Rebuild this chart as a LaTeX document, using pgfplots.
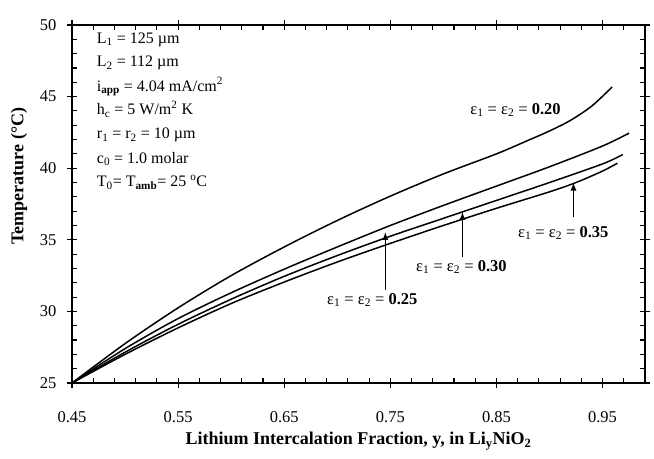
\documentclass[border=0pt]{standalone}
\usepackage{fontspec}
\setmainfont{Liberation Serif}
\usepackage{pgfplots}
\pgfplotsset{compat=1.18}
\usetikzlibrary{arrows.meta}

\pgfplotstableread{
x y
0.45 25.0
0.50 27.75
0.55 30.25
0.60 32.5
0.65 34.5
0.70 36.35
0.75 38.05
0.80 39.6
0.85 41.0
0.88 41.95
0.90 42.6
0.92 43.35
0.94 44.35
0.959 45.67
}\epsA
\pgfplotstableread{
x y
0.45 25.0
0.50 27.4
0.55 29.5
0.60 31.3
0.65 32.95
0.70 34.5
0.75 36.0
0.80 37.4
0.85 38.75
0.90 40.1
0.95 41.55
0.975 42.45
}\epsB
\pgfplotstableread{
x y
0.45 25.0
0.50 27.15
0.55 29.1
0.60 30.85
0.65 32.45
0.70 33.9
0.75 35.25
0.80 36.5
0.85 37.75
0.90 39.0
0.95 40.3
0.969 40.95
}\epsC
\pgfplotstableread{
x y
0.45 25.0
0.50 27.0
0.55 28.85
0.60 30.55
0.65 32.05
0.70 33.45
0.75 34.75
0.80 36.0
0.85 37.2
0.90 38.35
0.925 39.0
0.95 39.8
0.964 40.35
}\epsD

\begin{document}
\begin{tikzpicture}
\begin{axis}[name=ax, scale only axis, width=573pt, height=358pt,
  xmin=0.45, xmax=0.99, ymin=25, ymax=50,
  xtick={0.45,0.55,0.65,0.75,0.85,0.95},
  xticklabels={0.45,0.55,0.65,0.75,0.85,0.95},
  ytick={25,30,35,40,45,50},
  yticklabels={25,30,35,40,45,50},
  tick align=center, major tick length=10pt,
  tick style={black, line width=1.1pt},
  axis line style={line width=1.3pt},
  tick label style={font=\fontsize{16.5}{18}\selectfont},
  xticklabel style={anchor=center, yshift=-29pt},
  yticklabel style={anchor=east, xshift=-7pt},
  xlabel={\textbf{Lithium Intercalation Fraction, y, in Li\textsubscript{y}NiO\textsubscript{2}}},
  ylabel={\textbf{Temperature (°C)}},
  label style={font=\fontsize{18}{20}\selectfont},
  xlabel style={at={(axis description cs:0.5,-0.162)}, anchor=center},
  ylabel style={at={(axis description cs:-0.0925,0.578)}, anchor=center},
  clip=false,
]
\addplot[black, line width=1.5pt, smooth, no markers] table[x=x,y=y] {\epsA};
\addplot[black, line width=1.5pt, smooth, no markers] table[x=x,y=y] {\epsB};
\addplot[black, line width=1.5pt, smooth, no markers] table[x=x,y=y] {\epsC};
\addplot[black, line width=1.5pt, smooth, no markers] table[x=x,y=y] {\epsD};

% major ticks crossing the axis lines
\pgfplotsinvokeforeach{0.45,0.55,0.65,0.75,0.85,0.95}{
  \draw[line width=1.1pt] ([yshift=-5pt]axis cs:#1,25) -- ([yshift=5pt]axis cs:#1,25);
  \draw[line width=1.1pt] ([yshift=-5pt]axis cs:#1,50) -- ([yshift=5pt]axis cs:#1,50);
}
\pgfplotsinvokeforeach{25,30,35,40,45,50}{
  \draw[line width=1.1pt] ([xshift=-5pt]axis cs:0.45,#1) -- ([xshift=5pt]axis cs:0.45,#1);
  \draw[line width=1.1pt] ([xshift=-5pt]axis cs:0.99,#1) -- ([xshift=5pt]axis cs:0.99,#1);
}
% minor ticks pointing inwards
\pgfplotsinvokeforeach{0.47,0.49,0.51,0.53,0.57,0.59,0.61,0.63,0.67,0.69,0.71,0.73,0.77,0.79,0.81,0.83,0.87,0.89,0.91,0.93,0.97}{
  \draw[line width=1.1pt] (axis cs:#1,25) -- ([yshift=5pt]axis cs:#1,25);
  \draw[line width=1.1pt] (axis cs:#1,50) -- ([yshift=-5pt]axis cs:#1,50);
}
\pgfplotsinvokeforeach{26,27,28,29,31,32,33,34,36,37,38,39,41,42,43,44,46,47,48,49}{
  \draw[line width=1.1pt] (axis cs:0.45,#1) -- ([xshift=5pt]axis cs:0.45,#1);
  \draw[line width=1.1pt] (axis cs:0.99,#1) -- ([xshift=-5pt]axis cs:0.99,#1);
}

\node[font=\fontsize{16}{18}\selectfont, anchor=base west, inner sep=0pt] at (axis cs:0.4733,48.74) {L\textsubscript{1} = 125 µm};
\node[font=\fontsize{16}{18}\selectfont, anchor=base west, inner sep=0pt] at (axis cs:0.4733,47.07) {L\textsubscript{2} = 112 µm};
\node[font=\fontsize{16}{18}\selectfont, anchor=base west, inner sep=0pt] at (axis cs:0.4733,45.39) {i\textsubscript{\textbf{app}} = 4.04 mA/cm\textsuperscript{2}};
\node[font=\fontsize{16}{18}\selectfont, anchor=base west, inner sep=0pt] at (axis cs:0.4733,43.72) {h\textsubscript{c} = 5 W/m\textsuperscript{2} K};
\node[font=\fontsize{16}{18}\selectfont, anchor=base west, inner sep=0pt] at (axis cs:0.4733,42.04) {r\textsubscript{1} = r\textsubscript{2} = 10 µm};
\node[font=\fontsize{16}{18}\selectfont, anchor=base west, inner sep=0pt] at (axis cs:0.4733,40.36) {c\textsubscript{0} = 1.0 molar};
\node[font=\fontsize{16}{18}\selectfont, anchor=base west, inner sep=0pt] at (axis cs:0.4733,38.69) {T\textsubscript{0}= T\textsubscript{\textbf{amb}}= 25 \textsuperscript{o}C};

\node[font=\fontsize{16.5}{18}\selectfont, inner sep=0pt] at (axis cs:0.868,44.06) {ε\textsubscript{1} = ε\textsubscript{2} = \textbf{0.20}};
\node[font=\fontsize{16.5}{18}\selectfont, inner sep=0pt] at (axis cs:0.733,30.80) {ε\textsubscript{1} = ε\textsubscript{2} = \textbf{0.25}};
\node[font=\fontsize{16.5}{18}\selectfont, inner sep=0pt] at (axis cs:0.817,33.10) {ε\textsubscript{1} = ε\textsubscript{2} = \textbf{0.30}};
\node[font=\fontsize{16.5}{18}\selectfont, inner sep=0pt] at (axis cs:0.913,35.47) {ε\textsubscript{1} = ε\textsubscript{2} = \textbf{0.35}};

\draw[line width=1.3pt, -{Latex[length=8pt,width=6pt]}] (axis cs:0.7453,31.49) -- (axis cs:0.7453,35.55);
\draw[line width=1.3pt, -{Latex[length=8pt,width=6pt]}] (axis cs:0.818,33.80) -- (axis cs:0.818,36.95);
\draw[line width=1.1pt, -{Latex[length=8pt,width=6pt]}] (axis cs:0.9226,36.59) -- (axis cs:0.9226,39.0);
\end{axis}

\path ([shift={(-72pt,-75pt)}]ax.south west) rectangle ([shift={(9pt,25pt)}]ax.north east);
\end{tikzpicture}
\end{document}
